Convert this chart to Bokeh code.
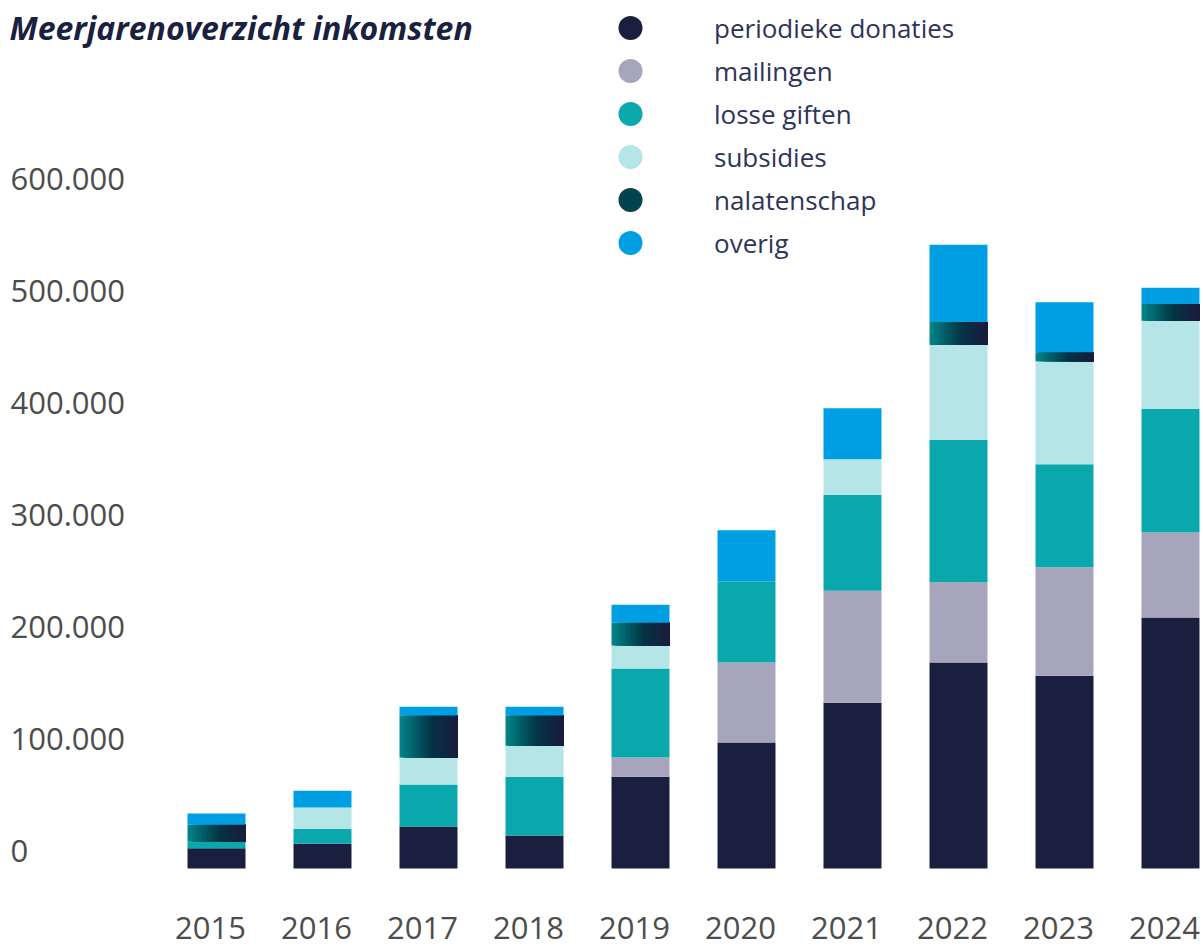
import numpy as np
from bokeh.plotting import figure
from bokeh.models import (Range1d, Legend, LegendItem, Label, LabelSet,
                          ColumnDataSource)
from bokeh.core.properties import value
from bokeh.embed import file_html
from bokeh.resources import INLINE

# ---------------- data ----------------
years = [2015, 2016, 2017, 2018, 2019, 2020, 2021, 2022, 2023, 2024]
year_labels = ["2015", "2016", "2017", "2018", "2019", "2020", "2021", "2022", "2023", "2024"]
periodieke_donaties = [18000, 22000, 37500, 29500, 82000, 112500, 148000, 184000, 172000, 224000]
mailingen = [0, 0, 0, 0, 17000, 71500, 100000, 71500, 97000, 76000]
losse_giften = [6000, 13500, 37500, 52500, 79500, 72500, 85500, 127000, 92000, 110500]
subsidies = [0, 19000, 24000, 27500, 20500, 0, 32000, 85000, 92000, 78500]
nalatenschap = [15000, 0, 37500, 27000, 20500, 0, 0, 20500, 8000, 15000]
overig = [10000, 15000, 8000, 8000, 16000, 45500, 45500, 69000, 44500, 14500]

series_names = ["periodieke donaties", "mailingen", "losse giften",
                "subsidies", "nalatenschap", "overig"]
y_ticks = [0, 100000, 200000, 300000, 400000, 500000, 600000]
y_tick_labels = ["0", "100.000", "200.000", "300.000", "400.000", "500.000", "600.000"]
title_text = "Meerjarenoverzicht inkomsten"

# ---------------- style ----------------
colors = ["#1a1f40", "#a7a5bb", "#0aa8ad", "#b5e5e7", None, "#009fe3"]
grad_stops = [(0.0, (0, 134, 138)), (0.55, (3, 52, 68)), (1.0, (27, 27, 61))]
legend_grad_color = "#03424f"
BAR_W = 0.547
N_SLICES = 30

W, H = 1203, 948
PX_PER_UNIT_Y = 112 / 100000.0
zero_from_bottom = 80  # px between canvas bottom and the zero line
y0 = -zero_from_bottom / PX_PER_UNIT_Y
y1 = y0 + H / PX_PER_UNIT_Y
px_per_year = 106.0
x0 = 2015 - 216 / px_per_year
x1 = x0 + W / px_per_year

p = figure(width=W, height=H, output_backend="svg", toolbar_location=None,
           x_range=Range1d(x0, x1), y_range=Range1d(y0, y1),
           x_axis_location=None, y_axis_location=None,
           min_border_left=0, min_border_right=0,
           min_border_top=0, min_border_bottom=0)
p.outline_line_color = None
p.xgrid.visible = False
p.ygrid.visible = False
p.background_fill_color = "white"
p.border_fill_color = "white"


def interp_color(t):
    for (ta, ca), (tb, cb) in zip(grad_stops[:-1], grad_stops[1:]):
        if ta <= t <= tb:
            f = (t - ta) / (tb - ta)
            c = [int(round(a + (b - a) * f)) for a, b in zip(ca, cb)]
            return "#%02x%02x%02x" % tuple(c)
    return "#%02x%02x%02x" % grad_stops[-1][1]


series = [periodieke_donaties, mailingen, losse_giften, subsidies, nalatenschap, overig]
bottom = np.zeros(len(years))
for idx, vals in enumerate(series):
    vals = np.array(vals, dtype=float)
    top = bottom + vals
    if idx == 4:
        # horizontal gradient: overlapping strips, each from its start to the bar's right edge
        mask = vals > 0
        xs = np.array(years, dtype=float)[mask]
        bs = bottom[mask]
        ts = top[mask]
        sw = BAR_W / N_SLICES
        for i in range(N_SLICES):
            left_off = -BAR_W / 2 + i * sw
            right_off = BAR_W / 2
            c = interp_color((i + 0.5) / N_SLICES)
            src = ColumnDataSource(dict(x=xs + (left_off + right_off) / 2, bottom=bs, top=ts))
            p.vbar(x="x", bottom="bottom", top="top", width=right_off - left_off,
                   source=src, fill_color=c, line_color=None)
    else:
        src = ColumnDataSource(dict(x=years, bottom=bottom.copy(), top=top.copy()))
        p.vbar(x="x", bottom="bottom", top="top", width=BAR_W, source=src,
               fill_color=colors[idx], line_color=None)
    bottom = top

# legend (round markers)
legend_items = []
for name, col in zip(series_names, colors):
    c = col if col is not None else legend_grad_color
    r = p.ellipse(x=[float("nan")], y=[float("nan")], width=24, height=24,
                  width_units="screen", height_units="screen",
                  fill_color=c, line_color=None)
    legend_items.append(LegendItem(label=name, renderers=[r]))

ITEM_H = 43
legend_h = 6 * ITEM_H
legend_top_page = 27 - ITEM_H / 2
legend = Legend(items=legend_items,
                location=(615, int(round(H - (legend_top_page + legend_h)))),
                glyph_width=30, glyph_height=ITEM_H, label_height=ITEM_H, spacing=0,
                padding=0, margin=0, label_standoff=69,
                border_line_color=None, background_fill_alpha=0,
                label_text_font="Open Sans", label_text_font_size="26px",
                label_text_color="#2e3458", label_text_baseline="middle")
p.add_layout(legend)

# year labels under the bars
year_src = ColumnDataSource(dict(x=years, text=year_labels))
p.add_layout(LabelSet(x="x", y=21, y_units="screen", text="text", source=year_src,
                      x_offset=-6, text_font=value("Open Sans"), text_font_size="31px",
                      text_color="#4d4d4d", text_align="center",
                      text_baseline="middle"))

# y tick labels (left aligned at the page edge)
for v, t in zip(y_ticks, y_tick_labels):
    p.add_layout(Label(x=10, x_units="screen", y=v, y_units="data", text=t,
                       text_font="Open Sans", text_font_size="31px",
                       text_color="#4d4d4d", text_align="left",
                       text_baseline="middle", y_offset=18))

# title
p.add_layout(Label(x=9, x_units="screen", y=H - 27, y_units="screen",
                   text=title_text, text_font="Open Sans", text_font_size="32px",
                   text_font_style="bold italic", text_color="#1b1f40",
                   text_align="left", text_baseline="middle"))

open("out.html", "w").write(file_html(p, INLINE))
